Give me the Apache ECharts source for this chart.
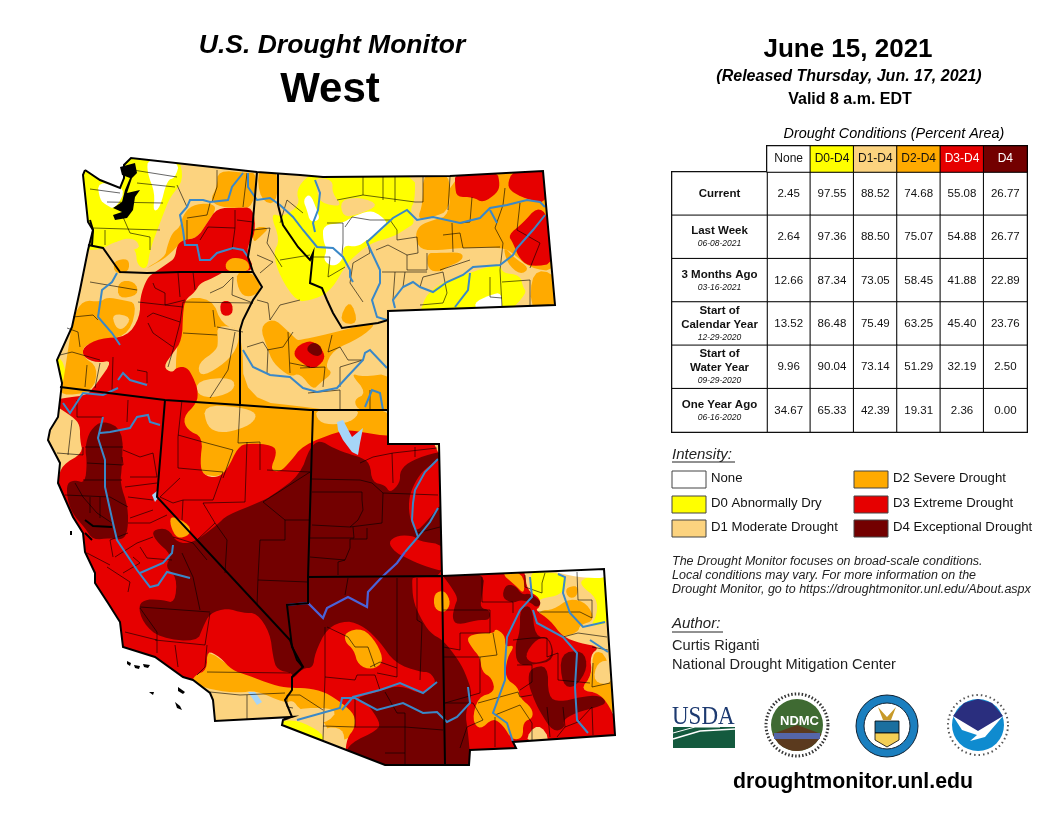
<!DOCTYPE html>
<html>
<head>
<meta charset="utf-8">
<style>html,body{margin:0;padding:0;background:#fff}#main{width:1056px;height:816px}</style>
<script src="https://cdn.jsdelivr.net/npm/echarts@6/dist/echarts.min.js"></script>
</head>
<body>
<div id="main"></div>
<script>
// table values
const tableColumns = ["None", "D0-D4", "D1-D4", "D2-D4", "D3-D4", "D4"];
const tableRows = ["Current", "Last Week", "3 Months Ago", "Start of\nCalendar Year", "Start of\nWater Year", "One Year Ago"];
const tableDates = ["", "06-08-2021", "03-16-2021", "12-29-2020", "09-29-2020", "06-16-2020"];
const tableValues = [
  [2.45, 97.55, 88.52, 74.68, 55.08, 26.77],
  [2.64, 97.36, 88.50, 75.07, 54.88, 26.77],
  [12.66, 87.34, 73.05, 58.45, 41.88, 22.89],
  [13.52, 86.48, 75.49, 63.25, 45.40, 23.76],
  [9.96, 90.04, 73.14, 51.29, 32.19, 2.50],
  [34.67, 65.33, 42.39, 19.31, 2.36, 0.00]
];
const levelColors = { None: "#ffffff", D0: "#ffff00", D1: "#fcd37f", D2: "#ffaa00", D3: "#e60000", D4: "#730000", Lake: "#a6d5f7", Ink: "#000000" };
const headerLevels = ["None", "D0", "D1", "D2", "D3", "D4"];
const legendLabels = ["None", "D0 Abnormally Dry", "D1 Moderate Drought", "D2 Severe Drought", "D3 Extreme Drought", "D4 Exceptional Drought"];

// map shapes (map units are screen pixels)
const outline = [[85,170],[100,180],[120,188],[124,178],[124,165],[131,158],[257,172],[300,175],[323,177],[450,176],[543,171],[555,305],[388,311],[388,444],[439,444],[442,576],[604,569],[615,735],[513,742],[516,748],[470,750],[469,765],[445,765],[385,765],[282,725],[283,720],[292,717],[215,721],[213,700],[210,693],[193,680],[183,677],[155,657],[123,647],[120,622],[108,603],[95,583],[95,573],[85,552],[83,533],[73,517],[58,483],[60,463],[48,440],[50,430],[58,417],[62,383],[57,360],[72,327],[80,290],[88,250],[93,230],[88,222],[83,175]];

const zonesD0 = [
  [[75,155],[130,150],[178,155],[184,180],[170,197],[163,215],[158,228],[150,250],[147,270],[137,265],[136,250],[127,245],[118,240],[100,250],[75,250]],
  [[296,190],[308,175],[323,172],[415,172],[415,200],[410,210],[415,223],[407,228],[393,237],[370,243],[350,260],[343,270],[333,287],[322,296],[310,300],[297,302],[280,277],[273,253],[280,240],[270,213],[283,217],[300,205]],
  [[420,312],[427,293],[447,280],[470,273],[483,268],[500,265],[503,273],[520,275],[523,287],[527,293],[507,314],[420,314]],
  [[52,360],[62,357],[68,383],[60,387]],
  [[530,572],[543,572],[563,574],[567,585],[560,595],[543,598],[537,602],[532,592]],
  [[583,578],[610,572],[612,622],[590,627],[597,615],[597,598],[580,585]]
];
const zonesNone = [
  [[148,158],[180,162],[175,178],[167,180],[160,208],[153,212],[155,193],[147,172]],
  [[97,181],[127,187],[115,210],[105,204],[100,200]],
  [[303,200],[310,193],[317,210],[320,220],[310,222],[307,210]],
  [[323,225],[343,223],[352,217],[370,210],[380,215],[388,223],[380,232],[367,240],[357,247],[343,245],[343,260],[333,267],[323,260],[327,250],[323,240]],
  [[473,303],[490,295],[502,292],[502,314],[480,314]],
  [[543,568],[608,564],[608,578],[587,578],[567,575]]
];
const zonesD1OnD0 = [
  [[340,200],[360,197],[380,205],[357,215],[343,217]],
  [[315,177],[333,180],[332,193],[343,207],[320,203],[317,190]],
  [[110,245],[125,238],[137,240],[140,250],[110,250]]
];
const zonesD2 = [
  [[218,170],[247,173],[257,173],[253,207],[240,208],[220,207],[210,200],[217,187]],
  [[192,205],[210,203],[217,208],[207,223],[197,238],[183,240],[167,257],[153,265],[143,270],[165,257],[167,247],[172,233],[180,227],[183,215]],
  [[257,168],[278,168],[277,205],[260,200]],
  [[253,227],[270,227],[260,237],[253,243]],
  [[113,261],[129,258],[129,272],[115,274]],
  [[118,281],[135,281],[139,295],[118,299]],
  [[73,317],[83,300],[100,302],[107,297],[123,300],[137,303],[130,333],[107,340],[83,345],[83,357],[98,367],[93,392],[60,396],[63,383],[68,350]],
  [[180,298],[212,298],[222,325],[242,330],[244,400],[315,408],[338,412],[360,410],[392,410],[392,445],[370,435],[340,435],[300,450],[280,478],[265,478],[240,470],[200,480],[180,430],[175,370],[178,340]],
  [[235,272],[252,272],[262,287],[253,297],[240,295]],
  [[260,327],[273,318],[287,330],[297,340],[300,340],[323,335],[343,330],[363,325],[377,323],[360,338],[333,350],[325,367],[333,373],[320,383],[313,390],[300,373],[290,377],[273,363],[267,347]],
  [[350,373],[363,377],[392,373],[392,412],[360,412],[353,400],[367,393]],
  [[338,322],[350,298],[359,325]],
  [[423,172],[450,172],[450,210],[433,217],[417,220],[423,203]],
  [[450,172],[546,165],[552,227],[556,272],[530,268],[515,255],[503,247],[460,248],[440,250],[420,250],[415,235],[420,225],[433,220],[450,215]],
  [[427,253],[437,253],[462,252],[463,260],[447,267],[440,272],[428,270]],
  [[503,245],[513,257],[530,268],[520,275],[507,263]],
  [[532,270],[556,273],[562,312],[530,312]],
  [[205,648],[232,668],[247,673],[290,686],[307,686],[325,690],[342,701],[356,713],[356,730],[347,740],[330,740],[325,720],[300,710],[293,700],[285,703],[255,690],[240,693],[212,690],[190,682],[195,673]],
  [[540,610],[553,610],[570,598],[587,603],[595,620],[580,625],[578,632],[563,637],[550,632],[537,620]],
  [[565,588],[578,585],[577,597],[568,598]],
  [[593,650],[608,655],[618,722],[600,693],[580,690],[592,675]]
];
const zonesD1OnD2 = [
  [[217,325],[240,328],[237,350],[220,367],[200,377],[198,363],[217,350],[218,340]],
  [[197,380],[233,377],[235,390],[215,398],[197,395]],
  [[203,405],[240,407],[257,413],[253,423],[237,430],[220,433],[207,427]],
  [[315,408],[360,408],[355,420],[335,425],[318,422]],
  [[112,313],[132,317],[123,330],[115,327]],
  [[293,708],[340,708],[325,725],[298,720]],
  [[323,727],[343,728],[345,746],[323,746]],
  [[597,662],[612,660],[612,685],[593,682]]
];
const zonesD0Late = [
  [[278,721],[298,720],[323,733],[323,744],[297,735]]
];
const zonesD3 = [
  [[253,207],[237,208],[217,208],[207,223],[197,238],[183,240],[177,245],[175,258],[168,263],[155,272],[147,278],[140,297],[140,317],[127,337],[100,338],[83,347],[83,357],[97,363],[113,360],[97,383],[93,388],[87,395],[63,398],[50,402],[73,417],[80,425],[80,440],[83,453],[62,465],[58,480],[35,490],[40,530],[70,570],[80,610],[100,650],[170,700],[190,685],[195,675],[207,670],[207,650],[220,657],[232,670],[247,675],[273,685],[290,688],[307,688],[325,692],[342,703],[355,715],[355,728],[347,738],[345,756],[390,780],[480,780],[520,760],[630,745],[620,735],[613,712],[600,693],[580,690],[592,675],[590,655],[600,647],[580,643],[563,637],[550,620],[535,610],[540,607],[540,598],[527,590],[525,572],[518,560],[445,560],[445,436],[387,436],[368,433],[350,430],[337,432],[303,445],[290,462],[280,472],[270,470],[277,453],[273,445],[248,443],[238,447],[227,470],[217,478],[203,475],[200,463],[203,437],[187,430],[183,417],[197,403],[198,390],[193,377],[187,367],[177,367],[172,373],[163,367],[173,353],[182,340],[183,313],[185,300],[195,292],[200,283],[213,278],[227,270],[256,272],[245,250],[256,233]],
  [[220,301],[232,301],[233,315],[221,316]],
  [[293,355],[298,345],[312,340],[323,350],[325,360],[313,370],[302,363]],
  [[455,172],[497,170],[500,185],[497,193],[483,203],[473,197],[457,197],[455,187]],
  [[507,185],[513,170],[546,165],[548,203],[530,200],[513,193]],
  [[508,235],[523,223],[537,207],[548,215],[556,263],[532,267],[520,260],[513,243]]
];
const zonesD2OnD3 = [
  [[225,263],[233,257],[248,260],[250,272],[227,272]],
  [[171,515],[190,525],[190,535],[177,539],[170,525]],
  [[466,637],[480,633],[495,633],[495,628],[505,635],[505,647],[515,645],[507,658],[505,678],[518,687],[520,698],[532,708],[533,718],[523,722],[523,738],[512,740],[503,725],[493,718],[480,730],[472,720],[478,697],[495,692],[492,678],[482,672],[480,657],[472,648]],
  [[500,572],[523,572],[525,595],[515,585]]
];
const zonesD1OnD3 = [
  [[523,742],[538,722],[552,742]]
];
const zonesD4 = [
  [[67,483],[75,480],[85,483],[87,463],[85,447],[90,430],[103,420],[123,430],[122,467],[120,483],[128,507],[128,530],[123,540],[110,538],[93,540],[85,528],[72,513],[67,497]],
  [[152,530],[168,528],[177,543],[193,543],[217,525],[227,515],[260,502],[273,495],[300,475],[310,447],[320,440],[333,448],[352,455],[360,457],[370,463],[372,482],[385,485],[390,493],[400,483],[400,470],[412,460],[437,452],[450,452],[450,577],[413,577],[412,580],[413,600],[420,617],[430,633],[443,640],[457,658],[465,672],[473,695],[465,712],[468,732],[470,755],[475,775],[385,775],[345,756],[350,743],[378,730],[380,722],[367,703],[355,698],[380,691],[400,685],[423,695],[437,683],[430,672],[420,672],[395,663],[380,642],[365,627],[347,620],[327,628],[315,653],[313,668],[303,668],[292,680],[293,673],[277,670],[273,657],[270,633],[257,613],[243,613],[227,608],[210,613],[203,627],[197,642],[160,638],[143,623],[138,605],[147,599],[163,600],[175,603],[177,577],[165,567],[172,555],[155,540]],
  [[440,572],[485,572],[482,595],[480,608],[490,610],[490,620],[477,620],[457,625],[452,618],[455,605],[458,598],[450,585]],
  [[502,598],[505,585],[515,585],[522,595],[530,593],[542,602],[537,608],[530,602],[520,600],[513,603]],
  [[520,608],[532,605],[535,637],[550,637],[555,660],[533,665],[517,665],[515,645],[520,632]],
  [[530,668],[548,665],[548,697],[560,702],[580,697],[600,695],[607,703],[597,707],[575,713],[563,720],[565,728],[553,732],[540,712],[533,697],[528,682]],
  [[560,653],[583,650],[588,668],[575,688],[562,685]],
  [[307,347],[313,342],[320,345],[323,353],[317,357],[308,352]]
];
const zonesD3OnD4 = [
  [[446,456],[425,468],[415,482],[409,497],[409,515],[415,533],[428,520],[438,507],[446,503]],
  [[388,542],[398,535],[415,536],[418,541],[446,545],[446,572],[428,567],[415,562],[405,557],[395,552]],
  [[524,656],[537,638],[549,638],[553,658],[533,664]]
];
const zonesD2OnD4 = [
  [[345,632],[363,628],[377,643],[384,662],[372,670],[358,665],[354,650],[345,642]],
  [[434,593],[445,590],[451,603],[445,613],[434,609]]
];
const lakes = [
  [[337,422],[343,420],[352,437],[363,428],[360,443],[358,455],[352,452],[343,440],[338,430]],
  [[152,495],[157,491],[158,498],[155,502]],
  [[248,692],[255,692],[262,702],[257,705]]
];
const inkShapes = [
  [[120,167],[135,163],[137,173],[132,178],[127,193],[140,190],[135,197],[133,210],[127,218],[115,220],[113,215],[122,212],[113,208],[122,202],[125,190],[130,178],[122,175]],
  [[127,661],[131,663],[130,666],[127,664]],[[134,665],[140,666],[139,669],[135,668]],
  [[143,664],[150,665],[148,668],[144,667]],[[155,666],[158,667],[157,668]],
  [[149,692],[154,692],[153,695]],[[178,687],[185,692],[183,694],[178,691]],
  [[175,702],[180,706],[182,710],[177,708]],[[70,531],[72,531],[72,535],[70,535]]
];

const stateLines = [
  outline.concat([outline[0]]),
  [[88,245],[103,248],[115,265],[120,272],[147,273],[180,272],[253,272]],
  [[257,172],[252,233],[248,257],[253,272],[262,287],[253,300],[243,320],[240,330],[240,405]],
  [[278,173],[278,205],[283,225],[298,247],[310,260],[313,253],[310,283],[322,288],[327,300],[333,313],[342,328],[378,323],[388,320]],
  [[60,387],[165,400],[240,405],[310,410],[388,410]],
  [[165,400],[157,497],[290,640],[297,660],[303,667],[292,677],[292,690],[285,700],[292,717]],
  [[313,410],[308,577],[308,603],[287,605],[292,647],[303,667]],
  [[308,577],[442,576],[445,765]],
  [[85,520],[93,526],[112,527]],
  [[85,533],[92,540]],
  [[90,220],[93,230],[92,245]]
];
const riverLines = [
  [[243,173],[232,187],[228,200],[210,202],[203,200],[190,200],[187,207],[180,215],[183,230],[185,245],[197,245],[200,260],[210,260],[217,253],[233,248],[243,250],[248,257]],
  [[248,173],[248,187],[257,200],[270,198],[280,205],[293,217],[303,230],[317,247],[333,248],[343,257],[350,270],[350,277],[353,282]],
  [[315,180],[320,193],[318,210],[313,223],[315,232]],
  [[545,207],[540,202],[527,200],[507,205],[490,208],[480,218],[460,223],[433,217],[417,220],[407,210],[393,218],[380,230],[367,242],[372,253],[380,270],[380,283],[372,300],[377,317],[387,320]],
  [[545,215],[533,230],[517,248],[513,255],[500,265],[473,267],[463,275],[447,282],[433,292],[420,287],[413,282],[403,287],[393,300],[395,308]],
  [[470,273],[468,290],[455,307]],
  [[490,210],[497,223]],
  [[243,350],[253,367],[270,375],[290,377],[303,388],[317,392],[337,388],[347,377],[363,360],[365,353],[370,350],[387,368]],
  [[365,407],[372,390],[380,393],[383,410]],
  [[117,273],[112,282],[102,290],[98,317],[112,333],[120,345]],
  [[118,380],[123,373],[130,380],[147,385]],
  [[63,403],[70,413],[83,393],[103,395],[118,388]],
  [[103,417],[98,438],[105,460],[105,487],[113,523],[117,540],[137,570],[150,587],[158,585],[167,572],[190,578]],
  [[100,433],[110,432],[130,428],[137,417],[148,415],[150,422],[160,425]],
  [[140,573],[163,563],[172,553],[173,545]],
  [[438,459],[425,472],[415,490],[413,503],[412,520],[418,537],[405,552]],
  [[438,508],[430,522],[418,537]],
  [[530,577],[532,597],[520,610],[507,637],[505,663],[505,680],[493,713],[507,723],[513,742]],
  [[533,610],[537,623],[563,637],[577,653],[575,687],[577,720],[588,733]],
  [[558,574],[565,577],[563,593],[570,613],[583,627],[605,622]],
  [[590,640],[608,652]],
  [[297,720],[340,708],[342,698],[355,698],[377,710],[403,703],[423,713],[437,712],[447,722],[457,717],[470,703],[468,687]],
  [[342,710],[353,697],[380,690],[400,683],[423,693],[437,682]]
];
const coloradoLines = [
  [[405,552],[397,563],[382,577],[368,592],[367,607],[348,597],[327,608],[323,618],[308,603],[287,605]]
];
const countyLines = [
  [[90,189],[120,193]],[[133,170],[177,177]],[[137,183],[175,187]],[[107,202],[163,203]],[[93,228],[160,230]],[[105,230],[105,245]],[[177,185],[187,207]],[[123,217],[130,233],[150,237],[150,250]],[[187,218],[207,215],[210,203]],[[187,240],[187,220]],[[208,227],[235,228],[235,210]],[[200,240],[208,227]],[[235,228],[232,250]],[[237,220],[253,222]],[[217,170],[217,187],[212,202]],[[247,173],[243,207]],
  [[193,272],[195,290]],[[153,283],[155,288],[165,293],[165,305],[185,300]],[[178,273],[180,297]],[[138,302],[183,307]],[[183,302],[180,323],[173,350],[168,367]],[[210,293],[223,287],[233,277],[232,295],[253,303]],[[213,310],[215,327]],[[217,327],[243,332]],[[183,302],[253,303]],[[235,332],[228,370],[210,398]],[[183,333],[217,335]],[[147,317],[153,313],[180,322]],[[148,323],[153,333],[173,347]],[[137,370],[147,372],[147,383]],[[113,357],[112,390]],[[100,363],[95,388]],[[87,365],[85,387]],[[60,355],[72,352],[100,360]],[[90,282],[137,290]],[[73,317],[93,315],[98,320]],[[67,328],[78,332],[80,347]],
  [[253,230],[270,228],[267,243],[282,267]],[[257,255],[273,262],[260,273]],[[280,223],[287,200],[303,213]],[[280,260],[310,255]],[[257,300],[268,303],[270,320],[280,305],[300,300]],[[247,347],[263,342],[268,350],[267,373]],[[288,332],[290,373]],[[267,350],[283,347],[293,332]],[[290,363],[310,367]],
  [[310,257],[330,257],[328,277],[345,267]],[[327,223],[343,223],[343,243],[342,255]],[[345,227],[352,217],[370,220],[390,220]],[[367,240],[370,253],[353,263],[350,283],[363,302]],[[390,220],[397,230],[397,240],[417,237],[418,253],[407,255]],[[376,250],[388,245],[407,255],[407,270],[427,270],[427,253]],[[382,272],[427,272]],[[395,272],[393,300]],[[405,272],[403,287]],
  [[363,177],[363,195]],[[383,177],[383,200]],[[395,177],[395,202]],[[337,200],[363,195],[415,202],[423,202],[423,177]],[[450,177],[448,210]],[[472,197],[470,222],[460,223]],[[443,235],[460,233],[463,248],[500,247]],[[452,223],[453,252]],[[505,188],[503,205],[495,228],[503,243],[500,270],[502,307]],[[520,203],[517,230],[540,243],[530,268]],[[502,282],[530,280],[530,305]],[[470,260],[440,270]],[[420,287],[423,277],[443,272],[447,293],[443,303],[420,305]],[[490,277],[490,297],[502,298]],
  [[332,335],[328,352],[340,347],[348,360],[363,360],[340,367],[340,387]],[[300,368],[325,367],[323,387]],[[308,393],[340,390],[340,410]],[[370,390],[370,410]],
  [[312,479],[360,480],[372,483],[383,493],[438,495]],[[312,492],[362,492],[362,500],[363,510],[358,520],[350,527],[312,525]],[[383,493],[382,523],[350,527]],[[367,528],[367,539]],[[353,527],[354,538],[310,538]],[[367,539],[350,539],[350,548],[345,560],[310,557]],[[345,560],[338,562],[338,575]],[[417,533],[440,527]],[[392,453],[393,483]],[[415,447],[415,457]],[[360,463],[373,457],[393,453],[437,448]],
  [[397,578],[397,677],[377,673]],[[417,578],[417,620],[422,623],[420,680]],[[348,578],[345,595]],[[327,627],[348,637],[355,647],[368,647],[375,667]],[[370,667],[380,662],[397,668]],[[325,627],[325,677],[323,740]],[[325,677],[355,680],[357,675],[375,675],[380,690]],[[355,698],[355,727],[323,726]],[[385,692],[397,713],[405,713],[405,765]],[[355,727],[405,727],[443,730]],[[385,753],[405,753]],[[323,710],[300,695],[287,695],[287,707],[293,708]],
  [[443,610],[490,610],[490,633],[460,633],[460,650],[443,647]],[[482,577],[482,602],[513,602],[513,613]],[[493,633],[497,655],[480,657],[462,657],[443,657]],[[480,657],[480,693],[445,703]],[[445,703],[473,703],[483,720],[467,727],[460,748]],[[478,703],[518,692],[520,697],[532,695]],[[495,715],[520,705],[532,723],[532,740]],[[495,717],[495,747]],[[513,640],[532,638],[547,638],[547,657],[558,653],[558,680],[590,683]],[[517,665],[532,665],[532,682],[520,690]],[[525,575],[525,587],[542,593],[542,583],[545,573]],[[538,612],[580,612],[592,618],[592,600],[578,600],[577,572]],[[563,637],[578,633],[607,637]],[[592,647],[608,650]],[[593,663],[592,687],[610,683]],[[563,707],[565,727],[578,722],[592,707],[593,735]],[[557,737],[565,727]],[[547,707],[550,737]],
  [[77,400],[77,417],[103,417]],[[72,420],[68,455]],[[57,453],[83,455],[83,447]],[[128,400],[127,422]],[[85,447],[123,447]],[[87,463],[123,465],[122,457]],[[123,450],[140,457],[153,453],[157,477],[130,477]],[[83,480],[122,480]],[[65,495],[110,497],[128,507]],[[125,487],[157,483]],[[128,497],[153,500]],[[130,518],[153,510]],[[75,483],[83,497],[97,513],[112,523]],[[90,497],[90,513]],[[100,497],[100,518]],[[128,523],[150,523],[167,515]],[[128,533],[110,540],[113,557]],[[140,547],[147,558],[172,560]],[[115,557],[137,543],[153,537]],[[123,573],[140,563],[133,557]],[[107,567],[130,582],[128,592]],[[87,553],[110,565]],[[173,537],[193,543],[207,560]],[[182,553],[193,577],[200,610]],[[140,607],[210,612]],[[210,613],[205,645],[155,640]],[[140,608],[157,632],[157,653]],[[175,645],[178,667]],[[207,645],[205,667],[197,675]],[[125,632],[157,640]],[[207,672],[290,673]],[[247,695],[247,720]],[[210,692],[240,695],[285,693]],
  [[182,400],[178,437],[178,468]],[[178,435],[203,442],[233,450],[223,478]],[[240,405],[238,443],[260,442],[260,470]],[[178,468],[223,472],[213,500],[183,500]],[[247,442],[245,502],[203,503]],[[267,470],[310,472],[263,502]],[[180,478],[160,497],[173,503],[183,500],[182,520]],[[203,503],[215,523],[197,540]],[[215,523],[227,540],[225,573]],[[263,502],[285,520],[285,540],[260,540],[258,578],[257,605]],[[285,520],[310,520]],[[258,580],[308,582]]
];

// paint order of the map, later ones cover earlier ones
const layers = [
  ["D0", zonesD0], ["None", zonesNone], ["D1", zonesD1OnD0],
  ["D2", zonesD2], ["D1", zonesD1OnD2], ["D0", zonesD0Late],
  ["D3", zonesD3], ["D2", zonesD2OnD3], ["D1", zonesD1OnD3],
  ["D4", zonesD4], ["D3", zonesD3OnD4], ["D2", zonesD2OnD4]
];

// rounds the hand-read zone corners, same idea as smooth: true on a line
function roundRing(ring) {
  let pts = ring;
  for (let k = 0; k < 2; k++) {
    const next = [];
    pts.forEach(function (p, i) {
      const q = pts[(i + 1) % pts.length];
      next.push([p[0] * 0.75 + q[0] * 0.25, p[1] * 0.75 + q[1] * 0.25]);
      next.push([p[0] * 0.25 + q[0] * 0.75, p[1] * 0.25 + q[1] * 0.75]);
    });
    pts = next;
  }
  return pts;
}

const features = [];
const regionStyles = [];
function addFeature(name, color, rings) {
  features.push({ type: "Feature", properties: { name: name }, geometry: { type: "Polygon", coordinates: rings } });
  regionStyles.push({ name: name, itemStyle: { areaColor: color, borderWidth: 0 } });
}
addFeature("base", levelColors.D1, [outline.concat([outline[0]])]);
layers.forEach(function (layer, i) {
  layer[1].forEach(function (ring, j) {
    const r = roundRing(ring);
    addFeature("z" + i + "_" + j, levelColors[layer[0]], [r.concat([r[0]])]);
  });
});
// white sheet with the west cut out, trims the zones at the coast and borders
const sheet = [[30,140],[30,790],[640,790],[640,140],[30,140]];
addFeature("sheet", "#ffffff", [sheet, outline.concat([outline[0]])]);
lakes.forEach(function (ring, i) { addFeature("lake" + i, levelColors.Lake, [ring.concat([ring[0]])]); });
inkShapes.forEach(function (ring, i) { addFeature("ink" + i, levelColors.Ink, [ring.concat([ring[0]])]); });
echarts.registerMap("west", { type: "FeatureCollection", features: features });

function polylineSeries(lines, color, width) {
  return {
    type: "lines", coordinateSystem: "geo", polyline: true, silent: true, z: 3,
    lineStyle: { color: color, width: width, opacity: 1 },
    data: lines.map(function (l) { return { coords: l }; })
  };
}

// table as three heatmaps
const cells = [];
tableValues.forEach(function (row, r) { row.forEach(function (v, c) { cells.push([c, r, v]); }); });
const font = "Liberation Sans";

const chart = echarts.init(document.getElementById("main"));

const legendGraphics = [];
legendLabels.forEach(function (label, i) {
  const col = i < 3 ? 0 : 1;
  const row = i % 3;
  const x = col === 0 ? 672 : 854;
  const y = [471, 496, 520][row];
  legendGraphics.push({ type: "rect", z: 10, shape: { x: x, y: y, width: 34, height: 17 }, style: { fill: levelColors[headerLevels[i]], stroke: "#444", lineWidth: 1 } });
  legendGraphics.push({ type: "text", z: 10, x: x + 39, y: y + 1, style: { text: label, font: "13.2px " + font, fill: "#111" } });
});

function textItem(text, x, y, f, fill) {
  return { type: "text", z: 10, x: x, y: y, style: { text: text, font: f + " " + font, fill: fill || "#000" } };
}

const logoGraphics = [
  // USDA
  { type: "text", z: 10, x: 672, y: 704, scaleY: 1.12, style: { text: "USDA", font: "23px 'Liberation Serif'", fill: "#1d3a70" } },
  { type: "rect", z: 10, shape: { x: 673, y: 727, width: 62, height: 21 }, style: { fill: "#145a3e" } },
  { type: "polyline", z: 11, shape: { points: [[673, 739], [700, 731], [735, 729]] }, style: { stroke: "#fff", lineWidth: 1.5, fill: null } },
  { type: "polyline", z: 11, shape: { points: [[673, 733], [695, 727], [720, 727]] }, style: { stroke: "#fff", lineWidth: 1, fill: null } },
  // NDMC
  { type: "circle", z: 10, shape: { cx: 797, cy: 725, r: 31 }, style: { fill: "#fff", stroke: "#333", lineWidth: 3, lineDash: [1.5, 2] } },
  { type: "circle", z: 10, shape: { cx: 797, cy: 725, r: 26 }, style: { fill: "#3f6a32" } },
  { type: "sector", z: 11, shape: { cx: 797, cy: 725, r: 26, startAngle: 0.35, endAngle: Math.PI - 0.35 }, style: { fill: "#5b3a1e" } },
  { type: "rect", z: 11, shape: { x: 774, y: 733, width: 46, height: 6 }, style: { fill: "#5566a8" } },
  textItem("NDMC", 780, 715, "bold 13px", "#fff"),
  // Commerce
  { type: "circle", z: 10, shape: { cx: 887, cy: 726, r: 31 }, style: { fill: "#1b7fbf", stroke: "#123", lineWidth: 1 } },
  { type: "circle", z: 11, shape: { cx: 887, cy: 726, r: 23 }, style: { fill: "#fff", stroke: "#123", lineWidth: 1 } },
  { type: "rect", z: 12, shape: { x: 875, y: 721, width: 24, height: 12 }, style: { fill: "#1b6f9f", stroke: "#000", lineWidth: 0.8 } },
  { type: "polygon", z: 12, shape: { points: [[875, 733], [899, 733], [899, 740], [887, 747], [875, 740]] }, style: { fill: "#f4cf55", stroke: "#000", lineWidth: 0.8 } },
  { type: "polygon", z: 12, shape: { points: [[878, 707], [887, 717], [896, 707], [891, 720], [883, 720]] }, style: { fill: "#c79a2a" } },
  // NOAA
  { type: "circle", z: 10, shape: { cx: 978, cy: 725, r: 30 }, style: { fill: "#fff", stroke: "#555", lineWidth: 2, lineDash: [1.5, 3] } },
  { type: "circle", z: 10, shape: { cx: 978, cy: 725, r: 26 }, style: { fill: "#0f8bcf" } },
  { type: "polygon", z: 11, shape: { points: [[964, 703], [978, 699], [992, 703], [1003, 716], [984, 729], [978, 731], [972, 729], [953, 716]] }, style: { fill: "#2a2e7e" } },
  { type: "polygon", z: 12, shape: { points: [[953, 716], [968, 725], [978, 731], [1003, 716], [985, 737], [970, 741], [977, 735], [962, 730]] }, style: { fill: "#fff" } },
  textItem("NOAA", 966, 708, "bold 9px", "#fff")
];

function heading(text, x, y, size, weight, style) {
  return { text: text, left: x, top: y, padding: 0, textAlign: "center", textStyle: { fontFamily: font, fontSize: size, fontWeight: weight, fontStyle: style, color: "#000" } };
}

chart.setOption({
  animation: false,
  backgroundColor: "#fff",
  title: [
    heading("U.S. Drought Monitor", 332, 32, 26.5, "bold", "italic"),
    heading("West", 330, 69, 42, "bold", "normal"),
    heading("June 15, 2021", 848, 37, 26, "bold", "normal"),
    heading("(Released Thursday, Jun. 17, 2021)", 849, 69, 16, "bold", "italic"),
    heading("Valid 8 a.m. EDT", 850, 92, 16, "bold", "normal"),
    heading("Drought Conditions (Percent Area)", 894, 127, 14.4, "normal", "italic"),
    heading("droughtmonitor.unl.edu", 853, 772, 21.3, "bold", "normal")
  ],
  geo: {
    map: "west", left: 30, top: 140, width: 610, height: 650, silent: true, roam: false,
    projection: { project: function (p) { return p; }, unproject: function (p) { return p; } },
    label: { show: false },
    itemStyle: { borderWidth: 0 },
    regions: regionStyles
  },
  grid: [
    { left: 767, top: 172, width: 260, height: 260, show: true, borderColor: "#000", borderWidth: 2, z: 5 },
    { left: 672, top: 172, width: 95, height: 260, show: true, borderColor: "#000", borderWidth: 2, z: 5 },
    { left: 767, top: 146, width: 260, height: 26, show: true, borderColor: "#000", borderWidth: 2, z: 5 }
  ],
  xAxis: [
    { type: "category", gridIndex: 0, data: tableColumns, show: false },
    { type: "category", gridIndex: 1, data: ["row"], show: false },
    { type: "category", gridIndex: 2, data: tableColumns, show: false }
  ],
  yAxis: [
    { type: "category", gridIndex: 0, data: tableRows, inverse: true, show: false },
    { type: "category", gridIndex: 1, data: tableRows, inverse: true, show: false },
    { type: "category", gridIndex: 2, data: ["head"], show: false }
  ],
  series: [
    polylineSeries(countyLines, "#000", 0.6),
    polylineSeries(riverLines, "#3a88c8", 2),
    polylineSeries(coloradoLines, "#4a62d8", 2.2),
    polylineSeries(stateLines, "#000", 2),
    {
      type: "heatmap", xAxisIndex: 0, yAxisIndex: 0, silent: true, z: 6,
      data: cells.map(function (c) { return { value: c, itemStyle: { color: "#fff", borderColor: "#000", borderWidth: 1 } }; }),
      label: { show: true, fontFamily: font, fontSize: 11.5, color: "#111", formatter: function (p) { return p.value[2].toFixed(2); } }
    },
    {
      type: "heatmap", xAxisIndex: 1, yAxisIndex: 1, silent: true, z: 6,
      data: tableRows.map(function (r, i) { return { value: [0, i, 0], itemStyle: { color: "#fff", borderColor: "#000", borderWidth: 1 } }; }),
      label: {
        show: true, fontFamily: font, color: "#000",
        formatter: function (p) {
          const i = p.value[1];
          const name = tableRows[i].split("\n").map(function (s) { return "{n|" + s + "}"; }).join("\n");
          return tableDates[i] ? name + "\n{d|" + tableDates[i] + "}" : name;
        },
        rich: {
          n: { fontFamily: font, fontSize: 11.5, fontWeight: "bold", lineHeight: 14, color: "#111" },
          d: { fontFamily: font, fontSize: 8.5, fontStyle: "italic", lineHeight: 12, color: "#111" }
        }
      }
    },
    {
      type: "heatmap", xAxisIndex: 2, yAxisIndex: 2, silent: true, z: 6,
      data: tableColumns.map(function (c, i) {
        return {
          value: [i, 0, i],
          itemStyle: { color: levelColors[headerLevels[i]], borderColor: "#000", borderWidth: 1 },
          label: { color: i >= 4 ? "#fff" : "#111" }
        };
      }),
      label: {
        show: true, fontFamily: font, fontSize: 12,
        formatter: function (p) { return tableColumns[p.value[0]]; }
      }
    }
  ],
  graphic: [].concat(
    [
      textItem("Intensity:", 672, 447, "italic 15px", "#222"),
      { type: "line", z: 10, shape: { x1: 672, y1: 462, x2: 735, y2: 462 }, style: { stroke: "#222", lineWidth: 1 } }
    ],
    legendGraphics,
    [
      textItem("The Drought Monitor focuses on broad-scale conditions.", 672, 555, "italic 12.5px", "#222"),
      textItem("Local conditions may vary. For more information on the", 672, 569, "italic 12.5px", "#222"),
      textItem("Drought Monitor, go to https://droughtmonitor.unl.edu/About.aspx", 672, 583, "italic 12.5px", "#222"),
      textItem("Author:", 672, 616, "italic 15px", "#222"),
      { type: "line", z: 10, shape: { x1: 672, y1: 632, x2: 723, y2: 632 }, style: { stroke: "#222", lineWidth: 1 } },
      textItem("Curtis Riganti", 672, 638, "14.6px", "#222"),
      textItem("National Drought Mitigation Center", 672, 657, "14.6px", "#222")
    ],
    logoGraphics
  )
});
</script>
</body>
</html>
